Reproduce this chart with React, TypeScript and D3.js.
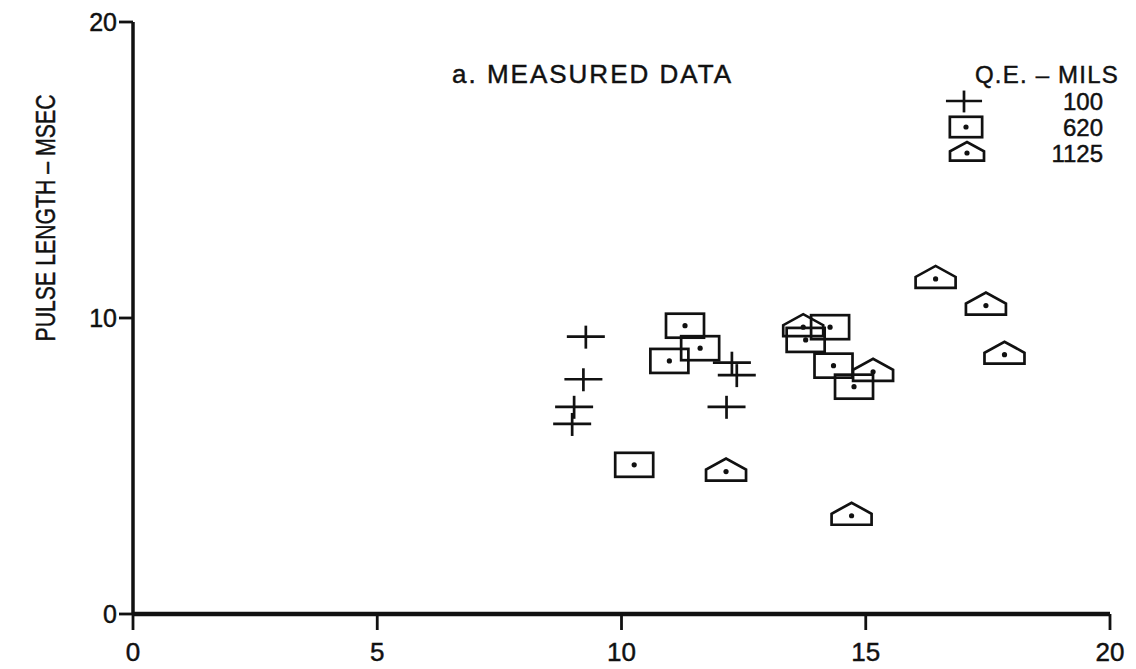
import React from "react";
import * as d3 from "d3";

const xTicks = [0, 5, 10, 15, 20];
const yTicks = [0, 10, 20];

// Q.E. 100 mils (crosses)
const crossX = [9.27, 9.22, 9.03, 8.99, 12.26, 12.36, 12.15];
const crossY = [9.37, 7.93, 7.0, 6.42, 8.49, 8.07, 7.0];
// Q.E. 620 mils (boxes)
const boxX = [11.3, 11.61, 10.98, 10.26, 14.27, 13.77, 14.34, 14.76];
const boxY = [9.74, 8.98, 8.55, 5.04, 9.69, 9.26, 8.39, 7.68];
// Q.E. 1125 mils (pentagons)
const pentX = [13.72, 15.15, 16.43, 17.46, 17.84, 14.71, 12.14];
const pentY = [9.69, 8.18, 11.32, 10.42, 8.76, 3.32, 4.81];

const legendLabels = ["100", "620", "1125"];

const W = 1136;
const H = 669;
const FONT = "'Liberation Sans', Arial, Helvetica, sans-serif";
const INK = "#111";

type MP = { cx: number; cy: number; s?: number };

function Cross({ cx, cy, s = 1 }: MP) {
  return (
    <g stroke={INK} strokeWidth={2.7} fill="none">
      <line x1={cx - 19 * s} x2={cx + 19 * s} y1={cy} y2={cy} />
      <line x1={cx} x2={cx} y1={cy - 11 * s} y2={cy + 12 * s} />
    </g>
  );
}

function Box({ cx, cy, s = 1 }: MP) {
  return (
    <g>
      <rect x={cx - 19 * s} y={cy - 12 * s} width={38 * s} height={24 * s} fill="none" stroke={INK} strokeWidth={2.7} />
      <circle cx={cx} cy={cy} r={2.6} fill={INK} />
    </g>
  );
}

function Pent({ cx, cy, s = 1 }: MP) {
  const p = `M${cx - 20 * s},${cy + 9 * s} L${cx + 20 * s},${cy + 9 * s} L${cx + 20 * s},${cy - 2 * s} L${cx},${cy - 13 * s} L${cx - 20 * s},${cy - 2 * s} Z`;
  return (
    <g>
      <path d={p} fill="none" stroke={INK} strokeWidth={2.7} strokeLinejoin="miter" />
      <circle cx={cx} cy={cy} r={2.6} fill={INK} />
    </g>
  );
}

export default function App() {
  const x = d3.scaleLinear().domain([0, 20]).range([133, 1110]);
  const y = d3.scaleLinear().domain([0, 20]).range([614, 22]);
  const txt = { fill: INK, stroke: INK, strokeWidth: 0.45 };

  return (
    <svg
      width={W}
      height={H}
      style={{ position: "absolute", left: 0, top: 0, background: "#fff" }}
      fontFamily={FONT}
    >
      <rect x={0} y={0} width={W} height={H} fill="#fff" />
      {/* axes */}
      <line x1={x(0)} x2={x(0)} y1={y(20)} y2={y(0)} stroke={INK} strokeWidth={3.5} />
      <line x1={x(0)} x2={x(20)} y1={y(0)} y2={y(0)} stroke={INK} strokeWidth={4.5} />
      {yTicks.map((t) => (
        <g key={"y" + t}>
          <line x1={x(0) - 14} x2={x(0)} y1={y(t)} y2={y(t)} stroke={INK} strokeWidth={2.8} />
          <text x={x(0) - 16} y={y(t)} dy="0.36em" textAnchor="end" fontSize={25} {...txt}>
            {t}
          </text>
        </g>
      ))}
      {xTicks.map((t) => (
        <g key={"x" + t}>
          <line x1={x(t)} x2={x(t)} y1={y(0)} y2={y(0) + 16} stroke={INK} strokeWidth={2.8} />
          <text x={x(t)} y={y(0) + 47} textAnchor="middle" fontSize={26} {...txt}>
            {t}
          </text>
        </g>
      ))}
      <text
        transform={`translate(55,${218}) rotate(-90) scale(0.76,1)`}
        textAnchor="middle"
        fontSize={28}
        {...txt}
      >
        PULSE LENGTH – MSEC
      </text>

      <text x={452} y={83} fontSize={26} letterSpacing={2} {...txt}>a. MEASURED DATA</text>

      {/* legend */}
      <text x={975} y={83} fontSize={24} letterSpacing={1.2} {...txt}>Q.E. – MILS</text>
      <Cross cx={964} cy={101} s={0.95} />
      <Box cx={966} cy={127} s={0.85} />
      <Pent cx={967} cy={153} s={0.85} />
      {legendLabels.map((l, i) => (
        <text key={l} x={1103} y={110 + i * 26} textAnchor="end" fontSize={24} {...txt}>
          {l}
        </text>
      ))}

      {/* data */}
      {crossX.map((v, i) => (
        <Cross key={"c" + i} cx={x(v)} cy={y(crossY[i])} />
      ))}
      {boxX.map((v, i) => (
        <Box key={"b" + i} cx={x(v)} cy={y(boxY[i])} />
      ))}
      {pentX.map((v, i) => (
        <Pent key={"p" + i} cx={x(v)} cy={y(pentY[i])} />
      ))}
    </svg>
  );
}
